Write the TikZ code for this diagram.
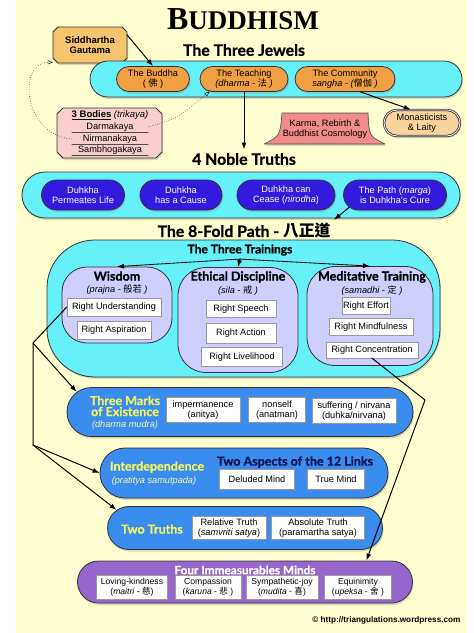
\documentclass[tikz,border=0pt]{standalone}
\usepackage{fontspec}
\setmainfont{Liberation Sans}
\newfontfamily\headfont{Lato}[BoldFeatures={FakeBold=0.8}]
\newfontfamily\titlefont{Liberation Serif}
\newfontfamily\cjk{Noto Sans CJK TC}
\usetikzlibrary{arrows.meta}
\usetikzlibrary{shapes.misc}
\usetikzlibrary{shadows}

\definecolor{bgyellow}{RGB}{255,255,208}
\definecolor{jewelcyan}{RGB}{102,240,250}
\definecolor{jewelorange}{RGB}{240,160,66}
\definecolor{sidorange}{RGB}{247,196,110}
\definecolor{bodypink}{RGB}{250,206,206}
\definecolor{karmapink}{RGB}{240,140,140}
\definecolor{monkorange}{RGB}{250,212,156}
\definecolor{truthblue}{RGB}{52,26,222}
\definecolor{trainlav}{RGB}{206,206,255}
\definecolor{markblue}{RGB}{58,140,238}
\definecolor{markyellow}{RGB}{242,242,96}
\definecolor{linksnavy}{RGB}{20,20,80}
\definecolor{mindpurple}{RGB}{150,102,204}

\begin{document}
\begin{tikzpicture}[x=1pt,y=-1pt,line cap=round,line join=round,>={Latex[length=7pt,width=5pt]},
  softshadow/.style={drop shadow={shadow xshift=1pt,shadow yshift=-2pt,opacity=0.3}},
  stadium/.style={rounded rectangle,draw=black!80,line width=0.8pt,inner sep=0pt,softshadow},
  smalltext/.style={font=\fontsize{9.2}{10.2}\selectfont,align=center},
  whitebox/.style={draw=black!40,fill=white,inner sep=1pt,smalltext,
    drop shadow={shadow xshift=0.8pt,shadow yshift=-0.8pt,opacity=0.35}},
  head/.style={font=\headfont\bfseries\fontsize{15.8}{17}\selectfont},
  subhead/.style={font=\headfont\bfseries\fontsize{12.5}{13}\selectfont,align=center}]
\fill[white] (0,0) rectangle (474,633);
\fill[bgyellow] (16,0) rectangle (467,633);
\useasboundingbox (0,0) rectangle (474,633);

\node (title) at (243,19) {\titlefont\bfseries\fontsize{32}{34}\selectfont B\fontsize{27}{30}\selectfont UDDHISM};
\filldraw[fill=sidorange,draw=black!80,line width=0.8pt,softshadow] (58,27) -- (122,27) -- (127,32) -- (127,58) -- (122,63) -- (58,63) -- (53,58) -- (53,32) -- cycle;
\node[minimum width=74pt,minimum height=36pt,inner sep=0pt,
  font=\bfseries\fontsize{9.5}{10.5}\selectfont,align=center] (sidd) at (90,45) {Siddhartha\\Gautama};
\node[head] (jewelshead) at (244,50) {The Three Jewels};

\node[stadium,fill=jewelcyan,minimum width=372pt,minimum height=36pt] (jewels) at (276,79) {};
\node[stadium,fill=jewelorange,minimum width=73pt,minimum height=25pt,smalltext] (buddha) at (153,79) {The Buddha\\( {\cjk 佛} )};
\node[stadium,fill=jewelorange,minimum width=88pt,minimum height=25pt,smalltext] (teaching) at (244,79) {The Teaching\\\textit{(dharma - {\cjk 法} )}};
\node[stadium,fill=jewelorange,minimum width=100pt,minimum height=25pt,smalltext] (community) at (345,79) {The Community\\\textit{sangha - ({\cjk 僧伽} )}};

\filldraw[fill=bodypink,draw=black!80,line width=0.8pt,softshadow] (63,108) -- (156,108) -- (162,114) -- (162,152) -- (156,158) -- (63,158) -- (57,152) -- (57,114) -- cycle;
\node[font=\fontsize{9.5}{10}\selectfont] (bodies) at (110,115) {\textbf{\underline{3 Bodies}} \textit{(trikaya)}};
\node[smalltext,minimum width=76pt,inner sep=1pt] (darma) at (110,127) {Darmakaya};
\node[smalltext,minimum width=76pt,inner sep=1pt] (nirm) at (110,139) {Nirmanakaya};
\node[smalltext,minimum width=76pt,inner sep=1pt] (sambho) at (110,150) {Sambhogakaya};
\draw[black!70] (darma.south west) -- (darma.south east);
\draw[black!70] (nirm.south west) -- (nirm.south east);
\draw[black!70] (sambho.south west) -- (sambho.south east);

\fill[karmapink,draw=black!70,line width=0.6pt,softshadow] (282,113) -- (368,113) .. controls (369,136) .. (385,144) -- (264,144) .. controls (280,136) .. (282,113) -- cycle;
\node[smalltext] (karma) at (325,129) {Karma, Rebirth \&\\Buddhist Cosmology};
\node[stadium,fill=monkorange,double,double distance=0.8pt,minimum width=76pt,minimum height=26pt,smalltext] (monks) at (422,123) {Monasticists\\\& Laity};

\node[head] (noblehead) at (244,159) {4 Noble Truths};
\node[stadium,fill=jewelcyan,minimum width=438pt,minimum height=46pt] (noble) at (241,195) {};
\node[stadium,fill=truthblue,text=white,minimum width=83pt,minimum height=30pt,smalltext] (permeates) at (83,195) {Duhkha\\Permeates Life};
\node[stadium,fill=truthblue,text=white,minimum width=82pt,minimum height=30pt,smalltext] (cause) at (181,195) {Duhkha\\has a Cause};
\node[stadium,fill=truthblue,text=white,minimum width=98pt,minimum height=30pt,smalltext] (cease) at (286,195) {Duhkha can\\Cease (\textit{nirodha})};
\node[stadium,fill=truthblue,text=white,minimum width=103pt,minimum height=30pt,smalltext] (path) at (395,195) {The Path (\textit{marga})\\is Duhkha's Cure};

\node[head] (eightfold) at (244,231) {The 8-Fold Path - {\cjk\bfseries 八正道}};
\node[rectangle,rounded corners=48pt,draw=black!80,line width=0.8pt,fill=jewelcyan,minimum width=393pt,minimum height=137pt,softshadow] (trainings) at (243.5,308.5) {};
\node[subhead,font=\headfont\bfseries\fontsize{12}{13}\selectfont] (traininghead) at (240,250) {The Three Trainings};

\node[rectangle,rounded corners=25pt,draw=black!80,line width=0.8pt,fill=trainlav,minimum width=110pt,minimum height=76pt] (wisdom) at (117,305) {};
\node[rectangle,rounded corners=28pt,draw=black!80,line width=0.8pt,fill=trainlav,minimum width=120pt,minimum height=105pt] (ethics) at (238,320) {};
\node[rectangle,rounded corners=28pt,draw=black!80,line width=0.8pt,fill=trainlav,minimum width=126pt,minimum height=99pt] (meditation) at (370,316) {};

\node[subhead] (wisdomlbl) at (117,276) {Wisdom};
\node[smalltext] (prajna) at (117,290) {\textit{(prajna - {\cjk 般若} )}};
\node[whitebox,minimum width=94pt,minimum height=18pt] (understanding) at (114,307) {Right Understanding};
\node[whitebox,minimum width=74pt,minimum height=18pt] (aspiration) at (114,330) {Right Aspiration};

\node[subhead] (ethicslbl) at (238,277) {Ethical Discipline};
\node[smalltext] (sila) at (238,291) {\textit{(sila - {\cjk 戒} )}};
\node[whitebox,minimum width=70pt,minimum height=17pt] (speech) at (241,309) {Right Speech};
\node[whitebox,minimum width=70pt,minimum height=20pt] (action) at (241,333) {Right Action};
\node[whitebox,minimum width=81pt,minimum height=19pt] (livelihood) at (242,357) {Right Livelihood};

\node[subhead] (meditationlbl) at (372,277) {Meditative Training};
\node[smalltext] (samadhi) at (372,291) {\textit{(samadhi - {\cjk 定} )}};
\node[whitebox,minimum width=48pt,minimum height=17pt] (effort) at (366,306) {Right Effort};
\node[whitebox,minimum width=84pt,minimum height=17pt] (mindfulness) at (371,327) {Right Mindfulness};
\node[whitebox,minimum width=92pt,minimum height=16pt] (concentration) at (372,350) {Right Concentration};

\node[stadium,fill=markblue,minimum width=346pt,minimum height=49pt] (marks) at (240,412) {};
\node[subhead,text=markyellow] (markslbl) at (125,406) {Three Marks\\[-2pt]of Existence};
\node[smalltext,text=markyellow!60] (mudra) at (125,425) {\textit{(dharma mudra)}};
\node[whitebox,minimum width=74pt,minimum height=25pt] (impermanence) at (203,410) {impermanence\\(anitya)};
\node[whitebox,minimum width=57pt,minimum height=25pt] (nonself) at (277,410) {nonself\\(anatman)};
\node[whitebox,minimum width=84pt,minimum height=25pt] (suffering) at (354,411) {suffering / nirvana\\(duhka/nirvana)};

\node[stadium,fill=markblue,minimum width=288pt,minimum height=50pt] (inter) at (244,473) {};
\node[subhead,text=markyellow] (interlbl) at (157,467) {Interdependence};
\node[smalltext,text=markyellow!60] (pratitya) at (154,481) {\textit{(pratitya samutpada)}};
\node[subhead,text=linksnavy] (links) at (295,462) {Two Aspects of the 12 Links};
\node[whitebox,minimum width=75pt,minimum height=20pt] (deluded) at (257,479) {Deluded Mind};
\node[whitebox,minimum width=57pt,minimum height=20pt] (truemind) at (336,479) {True Mind};

\node[stadium,fill=markblue,minimum width=275pt,minimum height=43pt] (truths) at (245,528) {};
\node[subhead,text=markyellow] (truthslbl) at (152,529) {Two Truths};
\node[whitebox,minimum width=74pt,minimum height=23pt] (relative) at (229,528) {Relative Truth\\(\textit{samvriti satya})};
\node[whitebox,minimum width=93pt,minimum height=23pt] (absolute) at (318,528) {Absolute Truth\\(paramartha satya)};

\node[stadium,fill=mindpurple,minimum width=335pt,minimum height=42pt] (minds) at (245,582) {};
\node[subhead,font=\headfont\bfseries\fontsize{11.8}{13}\selectfont,text=white] (mindslbl) at (245,570) {Four Immeasurables Minds};
\node[whitebox,minimum width=71pt,minimum height=24pt,font=\fontsize{8.6}{9.6}\selectfont] (loving) at (132,587) {Loving-kindness\\(\textit{maitri} - {\cjk 慈})};
\node[whitebox,minimum width=66pt,minimum height=24pt,font=\fontsize{8.6}{9.6}\selectfont] (compassion) at (208,587) {Compassion\\(\textit{karuna} - {\cjk 悲} )};
\node[whitebox,minimum width=72pt,minimum height=24pt,font=\fontsize{8.6}{9.6}\selectfont] (sympathetic) at (282,587) {Sympathetic-joy\\(\textit{mudita} - {\cjk 喜})};
\node[whitebox,minimum width=67pt,minimum height=24pt,font=\fontsize{8.6}{9.6}\selectfont] (equinimity) at (358,587) {Equinimity\\(\textit{upeksa} - {\cjk 舍} )};

\node[anchor=east,font=\bfseries\fontsize{8.2}{9}\selectfont] (credit) at (464,620) {© http://triangulations.wordpress.com};

\coordinate (fork) at (33,343);
\coordinate (forkb) at (33,445);
\coordinate (bend) at (425,400);

\draw[->,line width=1pt] (sidd.15) -- (buddha.north);
\draw[->,line width=1pt] (teaching.south) -- (noblehead.north);
\draw[->,line width=1pt] (community.-40) -- (monks.130);
\draw[->,line width=1pt] (path.195) -- (eightfold.north east);
\draw[dotted,-{Triangle[open,length=5pt,width=4pt]}] (nirm.west) .. controls (22,135) and (18,62) .. (sidd.205);
\draw[dotted,-{Triangle[open,length=5pt,width=4pt]}] (darma.east) .. controls (178,118) .. (teaching.200);
\draw[->,line width=0.8pt] (traininghead.south) -- (wisdom.north);
\draw[->,line width=0.8pt] (traininghead.south) -- (ethics.north);
\draw[->,line width=0.8pt] (traininghead.south) -- (meditation.north);
\draw[line width=1pt] (understanding.west) -- (fork) -- (forkb);
\draw[->,line width=1pt] (fork) -- (marks.173);
\draw[->,line width=1pt] (forkb) -- (inter.west);
\draw[->,line width=1pt] (forkb) -- (truths.172);
\draw[->,line width=1pt] (concentration.south) -- (bend) -- (minds.10);
\end{tikzpicture}
\end{document}
